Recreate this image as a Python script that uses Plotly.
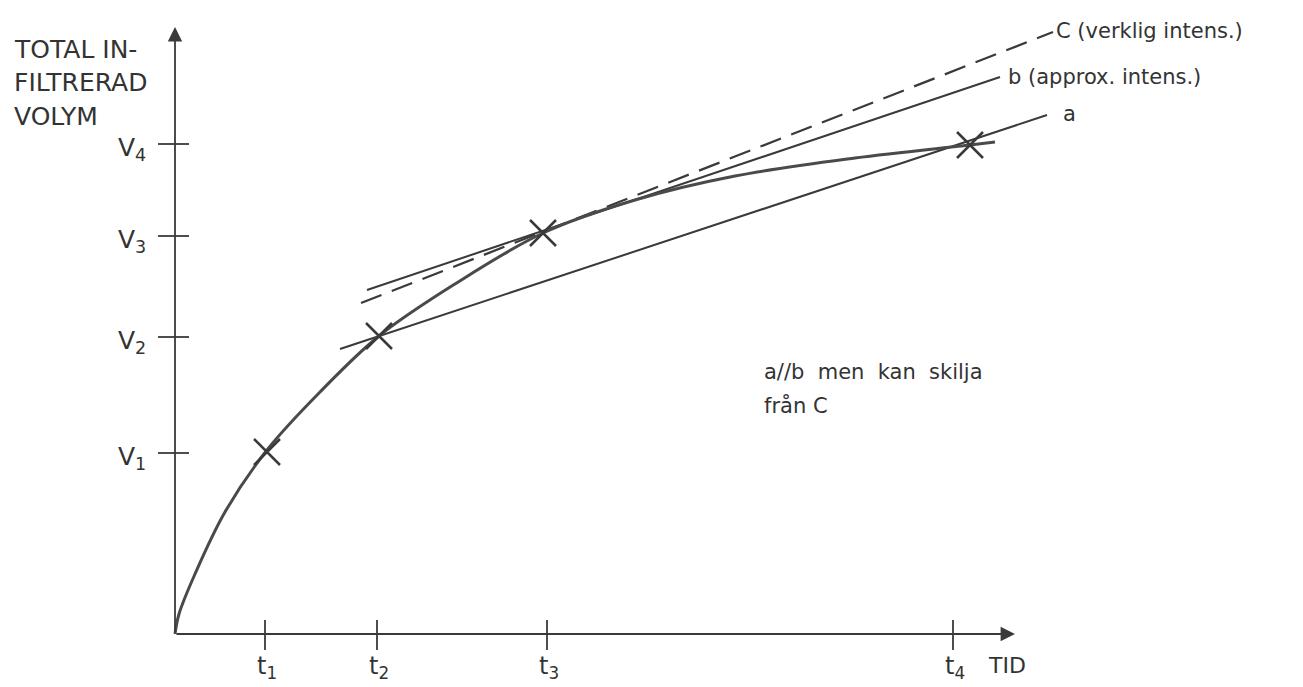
import plotly.graph_objects as go

# --- data (time in arbitrary units, volume in arbitrary units) ---
t_ticks = [0.90, 2.02, 3.72, 7.78]
t_labels = ["t<sub>1</sub>", "t<sub>2</sub>", "t<sub>3</sub>", "t<sub>4</sub>"]
v_ticks = [1.81, 2.97, 3.98, 4.90]
v_labels = ["V<sub>1</sub>", "V<sub>2</sub>", "V<sub>3</sub>", "V<sub>4</sub>"]

# measured points (t_i, V_i)
t_pts = [0.92, 2.04, 3.68, 7.95]
v_pts = [1.82, 2.98, 4.01, 4.89]

# cumulative infiltration curve
curve_t = [0.0, 0.04, 0.20, 0.50, 0.92, 1.45, 2.04, 2.80, 3.68,
           4.60, 5.60, 6.80, 7.95, 8.20]
curve_v = [0.0, 0.20, 0.60, 1.22, 1.84, 2.42, 2.98, 3.50, 4.01,
           4.34, 4.58, 4.76, 4.89, 4.92]

# straight lines: a = secant t2-t4, b = approximate intensity, C = true intensity
line_a_t = [1.65, 8.72]
line_a_v = [2.85, 5.19]
line_b_t = [1.92, 8.25]
line_b_v = [3.44, 5.57]
line_c_t = [1.86, 8.78]
line_c_v = [3.31, 6.02]

axis_t_end = 8.40
axis_v_end = 6.07

ylabel_lines = ["TOTAL IN-", "FILTRERAD", "VOLYM"]
x_title = "TID"
note_lines = ["a//b  men  kan  skilja", "från C"]

INK = "#3a3a3a"
TXT = "#333333"
FONT = "DejaVu Sans"

fig = go.Figure()

fig.add_trace(go.Scatter(x=line_a_t, y=line_a_v, mode="lines",
                         line=dict(color=INK, width=2), hoverinfo="skip"))
fig.add_trace(go.Scatter(x=line_b_t, y=line_b_v, mode="lines",
                         line=dict(color=INK, width=2), hoverinfo="skip"))
fig.add_trace(go.Scatter(x=line_c_t, y=line_c_v, mode="lines",
                         line=dict(color=INK, width=2.2, dash="22px,11px"),
                         hoverinfo="skip"))
fig.add_trace(go.Scatter(x=curve_t, y=curve_v, mode="lines",
                         line=dict(color="#4a4a4a", width=3, shape="spline",
                                   smoothing=1.0),
                         hoverinfo="skip"))
fig.add_trace(go.Scatter(x=t_pts, y=v_pts, mode="markers",
                         marker=dict(symbol="x-thin", size=26,
                                     line=dict(color=INK, width=2.5)),
                         hoverinfo="skip"))

# axes with arrowheads
fig.add_annotation(x=axis_t_end, y=0, ax=0, ay=0, xref="x", yref="y",
                   axref="x", ayref="y", text="", showarrow=True,
                   arrowhead=2, arrowsize=1.6, arrowwidth=1.8, arrowcolor=INK)
fig.add_annotation(x=0, y=axis_v_end, ax=0, ay=0, xref="x", yref="y",
                   axref="x", ayref="y", text="", showarrow=True,
                   arrowhead=2, arrowsize=1.6, arrowwidth=1.8, arrowcolor=INK)

# tick marks crossing the axes
for t in t_ticks:
    fig.add_shape(type="line", x0=t, x1=t, y0=-0.16, y1=0.14,
                  line=dict(color=INK, width=1.8))
for v in v_ticks:
    fig.add_shape(type="line", x0=-0.17, x1=0.14, y0=v, y1=v,
                  line=dict(color=INK, width=1.8))

# tick labels
for t, lab in zip(t_ticks, t_labels):
    fig.add_annotation(x=t + 0.02, y=-0.33, text=lab, showarrow=False,
                       xanchor="center", yanchor="middle",
                       font=dict(family=FONT, size=24, color=TXT))
for v, lab in zip(v_ticks, v_labels):
    fig.add_annotation(x=-0.27, y=v - 0.05, text=lab, showarrow=False,
                       xanchor="right", yanchor="middle",
                       font=dict(family=FONT, size=25, color=TXT))

# axis titles
for i, line in enumerate(ylabel_lines):
    fig.add_annotation(x=-1.63, y=5.85 - 0.335 * i, text=line, showarrow=False,
                       xanchor="left", yanchor="middle",
                       font=dict(family=FONT, size=25, color=TXT))
fig.add_annotation(x=8.32, y=-0.31, text=x_title, showarrow=False,
                   xanchor="center", yanchor="middle",
                   font=dict(family=FONT, size=22, color=TXT))

# line labels
fig.add_annotation(x=8.79, y=6.03, text="C (verklig intens.)", showarrow=False,
                   xanchor="left", yanchor="middle",
                   font=dict(family=FONT, size=21, color=TXT))
fig.add_annotation(x=8.31, y=5.57, text="b (approx. intens.)", showarrow=False,
                   xanchor="left", yanchor="middle",
                   font=dict(family=FONT, size=21, color=TXT))
fig.add_annotation(x=8.86, y=5.20, text="a", showarrow=False,
                   xanchor="left", yanchor="middle",
                   font=dict(family=FONT, size=21, color=TXT))

# explanatory note
for i, line in enumerate(note_lines):
    fig.add_annotation(x=5.87, y=2.62 - 0.33 * i, text=line, showarrow=False,
                       xanchor="left", yanchor="middle",
                       font=dict(family=FONT, size=21, color=TXT))

fig.update_layout(
    width=1303, height=687,
    margin=dict(l=0, r=0, t=0, b=0),
    paper_bgcolor="white", plot_bgcolor="white",
    showlegend=False,
    xaxis=dict(range=[-1.75, 11.28], visible=False, fixedrange=True),
    yaxis=dict(range=[-0.53, 6.34], visible=False, fixedrange=True),
)

fig.write_html("out.html")
